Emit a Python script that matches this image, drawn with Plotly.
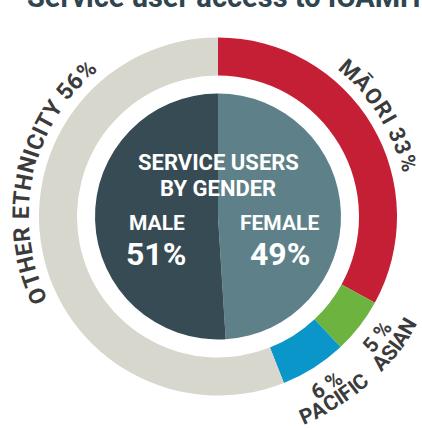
import math
import plotly.graph_objects as go

# ---------------- data ----------------
ethnicity_labels = ["MĀORI", "ASIAN", "PACIFIC", "OTHER ETHNICITY"]
ethnicity_values = [33, 5, 6, 56]
ethnicity_colors = ["#c41f35", "#6cb33f", "#0b96c9", "#d7d7cd"]

gender_labels = ["FEMALE", "MALE"]
gender_values = [49, 51]
gender_colors = ["#5e8189", "#364b54"]

title_text = "Service user access to ICAMH"

# ---------------- layout helpers ----------------
W, H = 422, 430
CX, CY = 218.0, 216.5
R_OUT, R_IN, R_PIE = 179.0, 141.0, 123.0
TXT = "#3b3b3b"
FONT = "Roboto"


def paper(px, py):
    return px / W, 1 - py / H


annotations = []

# char widths (em) for bold sans
CW = {"A": .67, "Ā": .67, "C": .65, "E": .57, "F": .56, "H": .71, "I": .29,
      "M": .87, "N": .71, "O": .69, "P": .63, "R": .63, "S": .61, "T": .61,
      "Y": .61, "3": .56, "5": .56, "6": .56, "%": .73, " ": .25}


def arc_text(text, th_first, th_last, r, size, mode):
    ws = [CW.get(c, .6) for c in text]
    span_em = sum(ws) - ws[0] / 2 - ws[-1] / 2
    span_rad = math.radians(abs(th_last - th_first))
    em_px = span_rad * r / span_em
    sgn = 1 if mode == "top" else -1
    cum = 0.0
    for i, c in enumerate(text):
        centre = cum + ws[i] / 2 - ws[0] / 2
        cum += ws[i]
        if c == " ":
            continue
        th = th_first + sgn * math.degrees(centre * em_px / r)
        t = math.radians(th)
        px = CX + r * math.sin(t)
        py = CY - r * math.cos(t)
        x, y = paper(px, py)
        ang = th if mode == "top" else th - 180
        while ang > 180:
            ang -= 360
        while ang < -180:
            ang += 360
        annotations.append(dict(x=x, y=y, xref="paper", yref="paper", text=c,
                                showarrow=False, xanchor="center", yanchor="middle",
                                textangle=ang,
                                font=dict(family=FONT, size=size, color=TXT, weight=700)))


# curved labels
arc_text(f"{ethnicity_labels[0]} {ethnicity_values[0]}%", 41.7, 74.2, 197, 22, "top")
arc_text(f"{ethnicity_labels[3]} {ethnicity_values[3]}%", -113.6, -42.0, 197, 23, "top")
arc_text(f"{ethnicity_values[1]}%", 130.0, 124.6, 200, 21, "bottom")
arc_text(ethnicity_labels[1], 131.8, 120.0, 219, 21, "bottom")
arc_text(f"{ethnicity_values[2]}%", 150.2, 144.6, 201, 21, "bottom")
arc_text(ethnicity_labels[2], 156.0, 139.2, 218, 21, "bottom")


def label(text, px, py, size, color="white"):
    x, y = paper(px, py)
    annotations.append(dict(x=x, y=y, xref="paper", yref="paper", text=text,
                            showarrow=False, xanchor="center", yanchor="middle",
                            font=dict(family=FONT, size=size, color=color, weight=700)))


label("SERVICE USERS", 218.5, 162.5, 22)
label("BY GENDER", 218.0, 188.5, 22)
label(gender_labels[1], 157.0, 222.5, 21)
label(gender_labels[0], 279.0, 222.5, 21)
label(f"{gender_values[1]}%", 155.5, 254.0, 32)
label(f"{gender_values[0]}%", 279.5, 254.0, 32)

# clipped title at top (cut off in the reference as well)
tx, ty = paper(224, -3)
annotations.append(dict(x=tx, y=ty, xref="paper", yref="paper", text=title_text,
                        showarrow=False, xanchor="center", yanchor="middle",
                        font=dict(family=FONT, size=29, color="#2f4650", weight=700)))

fig = go.Figure()

fig.add_trace(go.Pie(
    labels=ethnicity_labels, values=ethnicity_values,
    marker=dict(colors=ethnicity_colors, line=dict(width=0)),
    hole=R_IN / R_OUT, sort=False, direction="clockwise", rotation=0,
    textinfo="none", hoverinfo="label+percent", showlegend=False,
    domain=dict(x=[(CX - R_OUT) / W, (CX + R_OUT) / W],
                y=[1 - (CY + R_OUT) / H, 1 - (CY - R_OUT) / H]),
))

fig.add_trace(go.Pie(
    labels=gender_labels, values=gender_values,
    marker=dict(colors=gender_colors, line=dict(width=0)),
    sort=False, direction="clockwise", rotation=0,
    textinfo="none", hoverinfo="label+percent", showlegend=False,
    domain=dict(x=[(CX - R_PIE) / W, (CX + R_PIE) / W],
                y=[1 - (CY + R_PIE) / H, 1 - (CY - R_PIE) / H]),
))

fig.update_layout(
    width=W, height=H,
    margin=dict(l=0, r=0, t=0, b=0),
    paper_bgcolor="white", plot_bgcolor="white",
    annotations=annotations,
)

fig.write_html("out.html", config={"displayModeBar": False},
               post_script="document.body.style.margin='0';document.body.style.overflow='hidden';")
